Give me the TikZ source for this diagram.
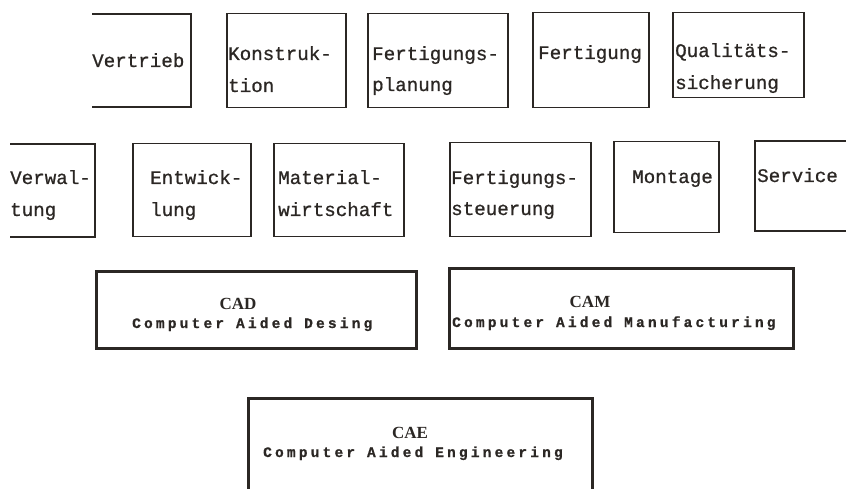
\documentclass[tikz,border=0pt]{standalone}
\usepackage{fontspec}
\newfontfamily\lblfam[FakeBold=0.8]{Liberation Mono}
\newfontfamily\ttlfam{Liberation Serif}
\newfontfamily\subfam[LetterSpace=22,FakeBold=0.8]{Liberation Mono}
\definecolor{ink}{HTML}{2B2724}
\tikzset{
  box/.style={draw=ink, line width=1.5pt, inner sep=0pt, anchor=north west},
  bigbox/.style={draw=ink, line width=3pt, inner sep=0pt, anchor=north west},
  openbox/.style={draw=ink, line width=1.5pt},
  openbig/.style={draw=ink, line width=3pt},
  lbl/.style={inner sep=0pt, anchor=base west, text=ink, font=\lblfam\fontsize{19.2pt}{32pt}\selectfont},
  ttl/.style={inner sep=0pt, anchor=base, text=ink, font=\ttlfam\bfseries\fontsize{17pt}{20pt}\selectfont},
  sub/.style={inner sep=0pt, anchor=base west, text=ink, font=\subfam\bfseries\fontsize{14.5pt}{18pt}\selectfont},
}
\begin{document}
\begin{tikzpicture}[x=1pt,y=-1pt]
\fill[white] (0,0) rectangle (846,489);
\useasboundingbox (0,0) rectangle (846,489);

% ---- row 1
\draw[openbox] (92,14) -- (191,14) -- (191,107) -- (92,107);
\node[lbl] (vertrieb) at (92,67) {Vertrieb};

\node[box, minimum width=119pt, minimum height=94pt] (konstr) at (226,13) {};
\node[lbl] (konstrA) at (228,60) {Konstruk-};
\node[lbl] (konstrB) at (228,92) {tion};

\node[box, minimum width=140pt, minimum height=94pt] (fplan) at (367,13) {};
\node[lbl] (fplanA) at (372,60) {Fertigungs-};
\node[lbl] (fplanB) at (372,91) {planung};

\node[box, minimum width=116pt, minimum height=95pt] (fert) at (532,12) {};
\node[lbl] (fertA) at (538,59) {Fertigung};

\node[box, minimum width=131pt, minimum height=85pt] (qual) at (672,12) {};
\node[lbl] (qualA) at (675,57) {Qualitäts-};
\node[lbl] (qualB) at (675,89) {sicherung};

% ---- row 2
\draw[openbox] (10,144) -- (95,144) -- (95,237) -- (10,237);
\node[lbl] (verwA) at (10,184) {Verwal-};
\node[lbl] (verwB) at (10,216) {tung};

\node[box, minimum width=118pt, minimum height=93pt] (entw) at (132,143) {};
\node[lbl] (entwA) at (150,184) {Entwick-};
\node[lbl] (entwB) at (150,216) {lung};

\node[box, minimum width=130pt, minimum height=93pt] (mat) at (273,143) {};
\node[lbl] (matA) at (278,184) {Material-};
\node[lbl] (matB) at (278,216) {wirtschaft};

\node[box, minimum width=141pt, minimum height=94pt] (fsteu) at (449,142) {};
\node[lbl] (fsteuA) at (451,184) {Fertigungs-};
\node[lbl] (fsteuB) at (451,215) {steuerung};

\node[box, minimum width=105pt, minimum height=91pt] (mont) at (613,141) {};
\node[lbl] (montA) at (632,183) {Montage};

\draw[openbox] (846,141) -- (755,141) -- (755,231) -- (846,231);
\node[lbl] (servA) at (757,182) {Service};

% ---- row 3
\node[bigbox, minimum width=320pt, minimum height=77pt] (cad) at (95,270) {};
\node[ttl] (cadT) at (238,309) {CAD};
\node[sub] (cadS) at (132,328) {Computer Aided Desing};

\node[bigbox, minimum width=344pt, minimum height=80pt] (cam) at (448,267) {};
\node[ttl] (camT) at (590,307) {CAM};
\node[sub] (camS) at (452,327) {Computer Aided Manufacturing};

% ---- row 4
\draw[openbig] (248,492) -- (248,398) -- (592,398) -- (592,492);
\node[ttl] (caeT) at (410,438) {CAE};
\node[sub] (caeS) at (263,457) {Computer Aided Engineering};
\end{tikzpicture}
\end{document}
